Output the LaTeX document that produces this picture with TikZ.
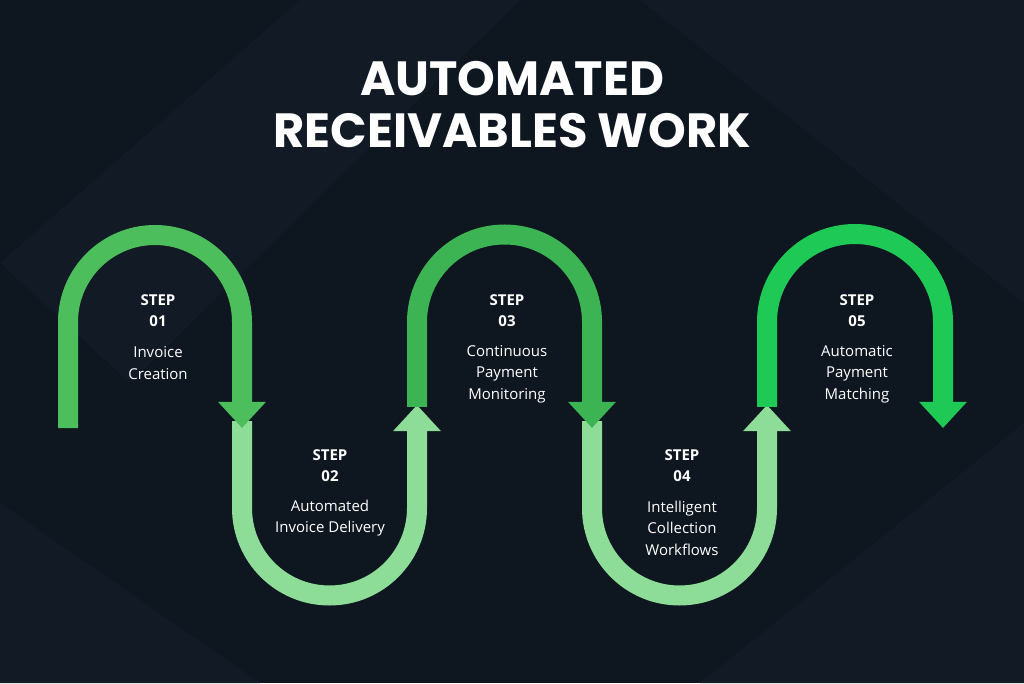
\documentclass[tikz,border=0pt]{standalone}
\usepackage{fontspec}
\setmainfont{Open Sans}
\newfontfamily\titlefont{Poppins}
\usetikzlibrary{arrows.meta}
\definecolor{bg}{HTML}{0E1620}
\definecolor{bgB}{HTML}{111A25}
\definecolor{gA}{HTML}{4DBE5C}
\definecolor{gB}{HTML}{3CB454}
\definecolor{gC}{HTML}{1FC955}
\definecolor{lg}{HTML}{8DDD98}
\tikzset{
 band/.style={line width=20pt,-{Triangle[width=46pt,length=26pt]}},
 steplbl/.style={text=white,font=\bfseries\fontsize{15}{21}\selectfont,align=center},
 desc/.style={text=white,font=\fontsize{15}{21.5}\selectfont,align=center},
}
\begin{document}
\begin{tikzpicture}[x=1pt,y=1pt]
\useasboundingbox (0,0) rectangle (1024,683);
\fill[bg] (0,0) rectangle (1024,683);
\fill[bgB] (0,420) -- (300,683) -- (520,683) -- (130,300) -- cycle;
\fill[bgB] (640,683) -- (1024,683) -- (1024,380) -- cycle;
\fill[bgB] (0,0) -- (260,0) -- (0,180) -- cycle;
\fill[bgB] (700,0) -- (1024,0) -- (1024,260) -- cycle;
\node[text=white,font=\titlefont\bfseries\fontsize{48}{56}\selectfont,align=center] (title) at (512,578) {AUTOMATED\\[-4pt]RECEIVABLES WORK};
% bottom arcs
\coordinate (b1s) at (242,262);
\coordinate (b2s) at (592,262);
\draw[band,lg] (b1s) -- (242,175) arc (180:360:87.5) -- (417,278);
\draw[band,lg] (b2s) -- (592,175) arc (180:360:87.5) -- (767,278);
% top arcs
\coordinate (t1s) at (68,255);
\coordinate (t2s) at (417,276);
\coordinate (t3s) at (767,276);
\draw[band,gA] (t1s) -- (68,361) arc (180:0:87) -- (242,255);
\draw[band,gB] (t2s) -- (417,361) arc (180:0:87.5) -- (592,255);
\draw[band,gC] (t3s) -- (767,361) arc (180:0:88) -- (943,255);
% labels
\node[steplbl] (s1) at (158,372) {STEP\\01};
\node[desc] (d1) at (158,320) {Invoice\\Creation};
\node[steplbl] (s2) at (330,217) {STEP\\02};
\node[desc] (d2) at (330,165) {Automated\\Invoice Delivery};
\node[steplbl] (s3) at (507,372) {STEP\\03};
\node[desc] (d3) at (507,309) {Continuous\\Payment\\Monitoring};
\node[steplbl] (s4) at (682,217) {STEP\\04};
\node[desc] (d4) at (682,155) {Intelligent\\Collection\\Workflows};
\node[steplbl] (s5) at (857,372) {STEP\\05};
\node[desc] (d5) at (857,309) {Automatic\\Payment\\Matching};
\end{tikzpicture}
\end{document}
